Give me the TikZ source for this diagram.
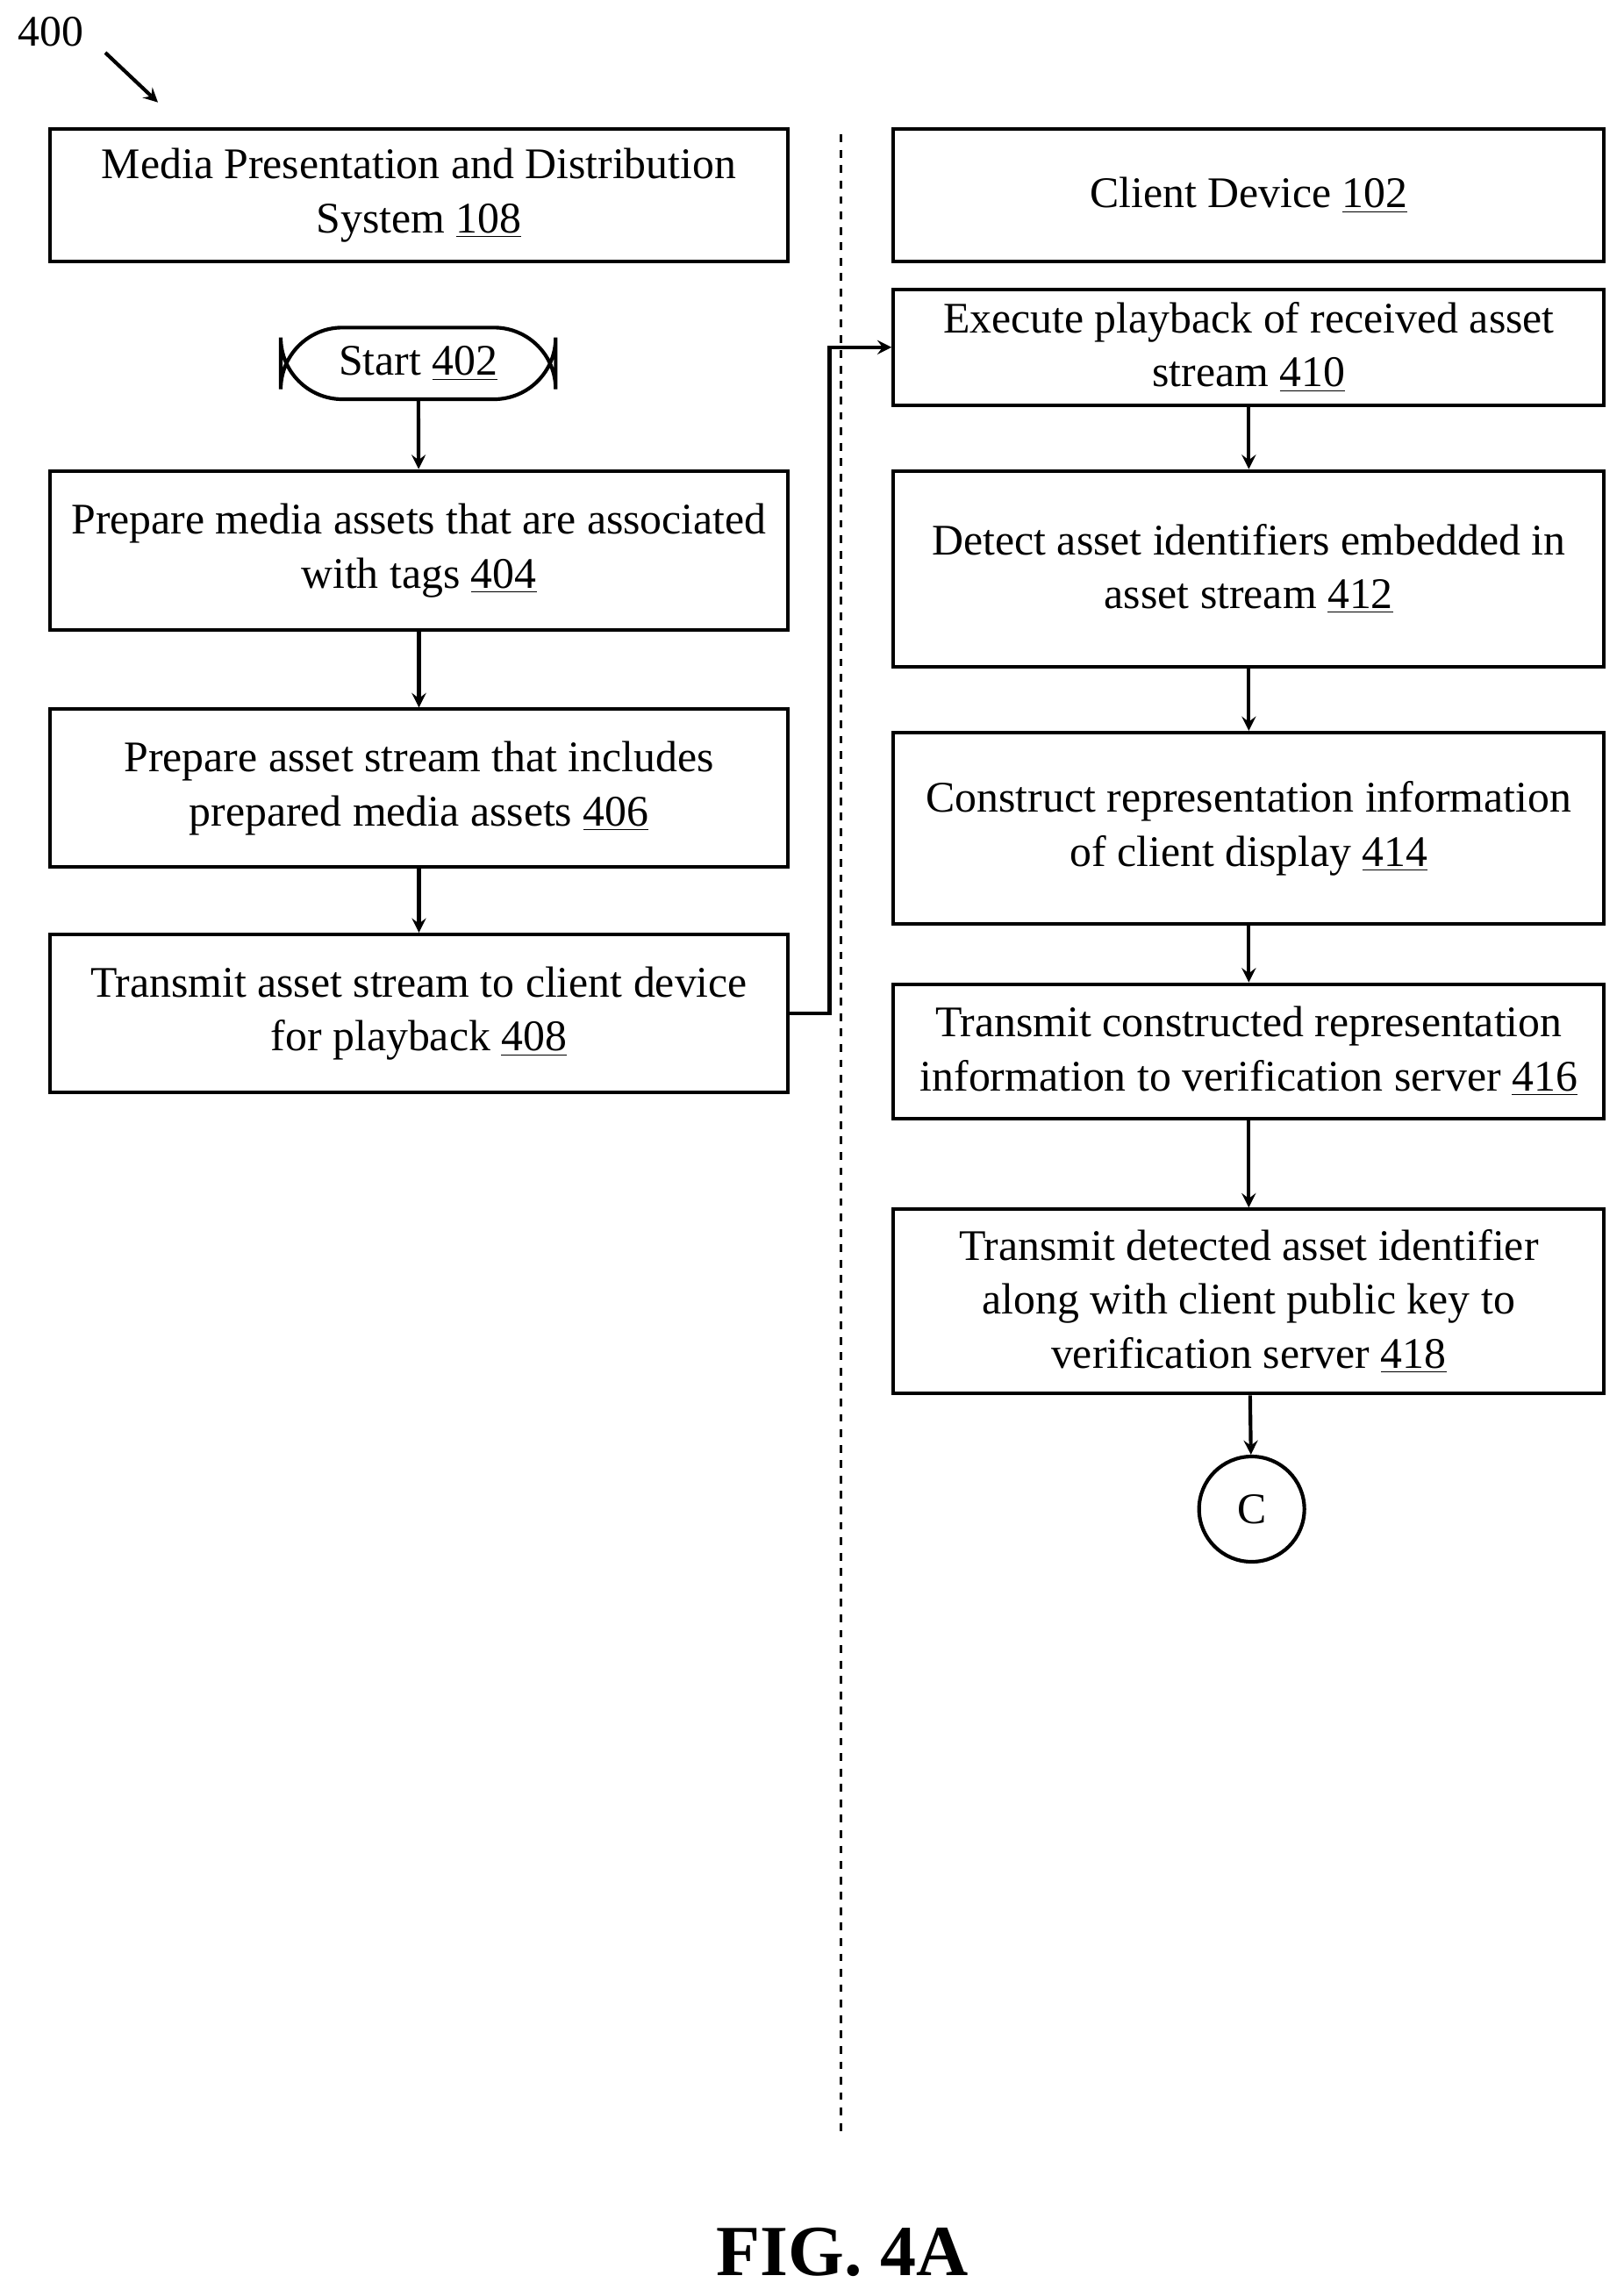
\documentclass[tikz,border=0pt]{standalone}
\usepackage{fontspec}
\setmainfont{Liberation Serif}
\usetikzlibrary{positioning}
\tikzset{
    box/.style={draw, line width=.5mm, align=center, inner sep=2pt, font=\fontsize{17}{21}\selectfont},
    flow/.style={->, line width=.5mm, >=stealth}
}
\begin{document}
\begin{tikzpicture}[x=0.02cm, y=-0.02cm]
    \useasboundingbox (0,0) rectangle (1110,1566);
    % Headers
    \node[box, minimum width=505*0.02cm, minimum height=91*0.02cm] (Media) at (286.5,133.5) {Media Presentation and Distribution\\System \underline{108}};
    \node[box, minimum width=486*0.02cm, minimum height=91*0.02cm] (Client) at (854,133.5) {Client Device \underline{102}};
    % Left lane
    \node[box, rounded corners=24pt, minimum width=188*0.02cm, minimum height=49*0.02cm] (Start) at (286,248.5) {Start \underline{402}};
    \node[box, minimum width=505*0.02cm, minimum height=109*0.02cm] (Step-404) at (286.5,376.5) {Prepare media assets that are associated\\with tags \underline{404}};
    \node[box, minimum width=505*0.02cm, minimum height=108*0.02cm] (Step-406) at (286.5,539) {Prepare asset stream that includes\\prepared media assets \underline{406}};
    \node[box, minimum width=505*0.02cm, minimum height=108*0.02cm] (Step-408) at (286.5,693) {Transmit asset stream to client device\\for playback \underline{408}};
    % Right lane
    \node[box, minimum width=486*0.02cm, minimum height=79*0.02cm] (Step-410) at (854,237.5) {Execute playback of received asset\\stream \underline{410}};
    \node[box, minimum width=486*0.02cm, minimum height=134*0.02cm] (Step-412) at (854,389) {Detect asset identifiers embedded in\\asset stream \underline{412}};
    \node[box, minimum width=486*0.02cm, minimum height=131*0.02cm] (Step-414) at (854,566.5) {Construct representation information\\of client display \underline{414}};
    \node[box, minimum width=486*0.02cm, minimum height=92*0.02cm] (Step-416) at (854,719) {Transmit constructed representation\\information to verification server \underline{416}};
    \node[box, minimum width=486*0.02cm, minimum height=126*0.02cm] (Step-418) at (854,890) {Transmit detected asset identifier\\along with client public key to\\verification server \underline{418}};
    \node[box, circle, minimum size=72*0.02cm, inner sep=0pt] (Conn-C) at (856,1032) {C};
    % Lane divider
    \draw[dashed, line width=.4mm] (575,92) -- (575,1460);
    % Arrows
    \draw[flow] (Start) -- (Step-404);
    \draw[flow] (Step-404) -- (Step-406);
    \draw[flow] (Step-406) -- (Step-408);
    \draw[flow] (Step-408.east) -- ++(27,0) |- (Step-410.west);
    \draw[flow] (Step-410) -- (Step-412);
    \draw[flow] (Step-412) -- (Step-414);
    \draw[flow] (Step-414) -- (Step-416);
    \draw[flow] (Step-416) -- (Step-418);
    \draw[flow] (Step-418) -- (Conn-C);
    % Figure labels
    \node[font=\fontsize{17}{21}\selectfont] (Ref) at (35,22) {400};
    \coordinate (Ref-end) at (108,70);
    \draw[flow] (72,36) -- (Ref-end);
    \node[font=\bfseries\fontsize{28}{32}\selectfont] (Fig) at (576,1540) {FIG. 4A};
\end{tikzpicture}
\end{document}
